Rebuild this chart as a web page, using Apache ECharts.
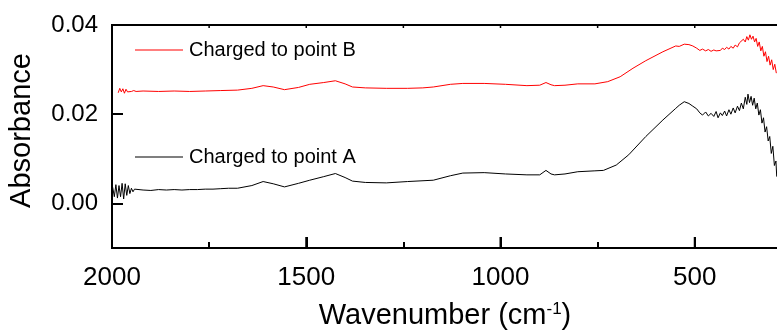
<!DOCTYPE html>
<html>
<head>
<meta charset="utf-8">
<script src="https://cdn.jsdelivr.net/npm/echarts@6/dist/echarts.min.js"></script>
<style>html,body{margin:0;padding:0;background:#fff}#c{width:777px;height:333px}</style>
</head>
<body>
<div id="c"></div>
<script>
// ---- data (wavenumber in cm-1, absorbance) ----
var wnA = [2000,1998,1994,1990,1986,1982,1978,1974,1970,1966,1962,1958,1954,1950,1946,1942,1938,
  1920,1900,1880,1860,1840,1820,1800,1780,1760,1740,1720,1700,1677,1640,1611,1585,1556,1520,1491,1455,1425,1400,1381,1348,1294,1239,1173,1129,1097,1042,987,932,899,883,870,861,834,801,757,735,702,670,626,582,549,
  540,527,515,505,495,487,480,472,465,458,451,445,440,434,429,423,418,412,407,401,396,390,385,380,375,370,366,363,359,355,351,347,343,339,335,331,327,323,319,315,311,307,303,299,295,291,289];
var absA = [0.0040,0.0035,0.0015,0.0042,0.0012,0.0040,0.0015,0.0045,0.0010,0.0044,0.0018,0.0040,0.0022,0.0034,0.0026,0.0032,0.0028,
  0.0030,0.0029,0.0031,0.0030,0.0031,0.0030,0.0031,0.0031,0.0032,0.0032,0.0033,0.0034,0.0034,0.0040,0.0049,0.0044,0.0037,0.0045,0.0052,0.0060,0.0067,0.0058,0.0050,0.0047,0.0046,0.0049,0.0052,0.0062,0.0068,0.0069,0.0066,0.0064,0.0064,0.0074,0.0066,0.0064,0.0066,0.0071,0.0073,0.0074,0.0086,0.0109,0.0150,0.0187,0.0213,
  0.0220,0.0228,0.0224,0.0218,0.0212,0.0203,0.0198,0.0205,0.0196,0.0202,0.0195,0.0206,0.0192,0.0203,0.0197,0.0207,0.0196,0.0210,0.0200,0.0214,0.0203,0.0218,0.0208,0.0225,0.0212,0.0238,0.0222,0.0245,0.0226,0.0240,0.0220,0.0236,0.0212,0.0225,0.0198,0.0210,0.0180,0.0192,0.0160,0.0172,0.0140,0.0150,0.0112,0.0128,0.0085,0.0095,0.0060];

var wnB = [1984,1980,1976,1972,1968,1964,1960,1956,1950,1944,1938,
  1920,1880,1840,1800,1760,1720,1677,1640,1611,1585,1556,1520,1491,1455,1425,1400,1381,1348,1294,1239,1200,1173,1129,1097,1042,987,932,899,883,870,861,834,801,757,724,692,659,626,582,549,
  540,527,515,505,495,487,480,472,465,458,451,445,440,434,429,423,418,412,407,401,396,390,385,380,375,370,366,362,358,354,350,346,342,338,334,330,326,322,318,314,310,306,302,298,294,290];
var absB = [0.0248,0.0258,0.0250,0.0257,0.0247,0.0256,0.0250,0.0254,0.0251,0.0253,0.0251,
  0.0252,0.0251,0.0252,0.0251,0.0252,0.0253,0.0254,0.0258,0.0264,0.0261,0.0255,0.0260,0.0267,0.0271,0.0275,0.0268,0.0261,0.0259,0.0258,0.0258,0.0259,0.0261,0.0267,0.0269,0.0269,0.0267,0.0264,0.0265,0.0271,0.0266,0.0264,0.0265,0.0268,0.0268,0.0273,0.0284,0.0303,0.0320,0.0340,0.0353,
  0.0352,0.0357,0.0356,0.0353,0.0348,0.0343,0.0346,0.0342,0.0345,0.0341,0.0344,0.0342,0.0346,0.0343,0.0348,0.0345,0.0350,0.0346,0.0352,0.0348,0.0355,0.0351,0.0360,0.0356,0.0368,0.0362,0.0374,0.0366,0.0378,0.0368,0.0375,0.0362,0.0370,0.0352,0.0362,0.0342,0.0352,0.0330,0.0340,0.0318,0.0330,0.0310,0.0322,0.0300,0.0312,0.0292];

var xMajor = [2000,1500,1000,500];
var xAll = [1750,1500,1250,1000,750,500];
var yTicks = [0,0.02,0.04];
var nameA = 'Charged to point A';
var nameB = 'Charged to point B';

function pairs(w,a){var r=[];for(var i=0;i<w.length;i++)r.push([w[i],a[i]]);return r;}

var FONT = '"Liberation Sans", Arial, sans-serif';
var YMIN = -0.01, YMAX = 0.04;
var chart = echarts.init(document.getElementById('c'), null, {renderer:'canvas'});
var legendBase = {padding:0, itemWidth:48, itemHeight:1, itemGap:0, icon:'rect',
  textStyle:{fontFamily:FONT, fontSize:20, color:'#000', padding:[0,0,0,1]}};

// tick marks placed through the axis scale (api.coord), with a pixel length
function tickRenderer(yVal, len, dir, width){
  return function(params, api){
    var p = api.coord([api.value(0), yVal]);
    return {type:'line', shape:{x1:p[0], y1:p[1], x2:p[0], y2:p[1] + dir*len},
            style:{stroke:'#000', lineWidth:width}, silent:true};
  };
}

chart.setOption({
  animation:false,
  backgroundColor:'#fff',
  // the axis runs 2000 -> 0; the part below ~289 lies past the right edge of the picture (cropped)
  grid:{left:112, right:-112, top:25, bottom:85, containLabel:false, outerBoundsMode:'none',
        show:true, borderColor:'#000', borderWidth:2, backgroundColor:'transparent'},
  legend:[
    Object.assign({data:[nameB], left:135, top:40}, legendBase),
    Object.assign({data:[nameA], left:135, top:147}, legendBase)
  ],
  xAxis:{
    type:'value', min:0, max:2000, inverse:true, interval:500, position:'bottom',
    splitLine:{show:false},
    name:'{a|Wavenumber (cm}{s|-1}{a|)}', nameLocation:'middle', nameGap:53,
    nameTextStyle:{padding:[0,111,0,0], rich:{a:{fontFamily:FONT, fontSize:29, color:'#000'}, s:{fontFamily:FONT, fontSize:17, color:'#000', verticalAlign:'top', padding:[0,0,13,0]}}},
    axisLine:{show:true, onZero:false, lineStyle:{color:'#000', width:2}},
    axisTick:{show:true, inside:true, length:11, lineStyle:{color:'#000', width:2}},
    minorTick:{show:true, splitNumber:2, length:6, lineStyle:{color:'#000', width:2}},
    axisLabel:{show:true, margin:17, fontFamily:FONT, fontSize:26, color:'#000', formatter:function(v){return String(v);}}
  },
  yAxis:{
    type:'value', min:YMIN, max:YMAX, position:'left',
    name:'Absorbance', nameLocation:'middle', nameGap:76,
    nameTextStyle:{fontFamily:FONT, fontSize:29, color:'#000', padding:[0,0,0,12]},
    splitLine:{show:false},
    axisLine:{show:true, onZero:false, lineStyle:{color:'#000', width:2}},
    axisTick:{show:true, inside:true, length:11, lineStyle:{color:'#000', width:2}, customValues:yTicks},
    axisLabel:{show:true, margin:14, fontFamily:FONT, fontSize:24, color:'#000', customValues:yTicks,
      formatter:function(v){return v.toFixed(2);}}
  },
  series:[
    {name:nameB, type:'line', data:pairs(wnB,absB), symbol:'none', lineStyle:{color:'#ff0000', width:1}, itemStyle:{color:'#ff0000'}},
    {name:nameA, type:'line', data:pairs(wnA,absA), symbol:'none', lineStyle:{color:'#000', width:1}, itemStyle:{color:'#000'}},
    {name:'majorTicks', type:'custom', data:xMajor.map(function(v){return [v];}), clip:false, silent:true, z:5,
     encode:{x:0}, renderItem:tickRenderer(YMIN, 11, -1, 2)},
    {name:'topTicks', type:'custom', data:xAll.map(function(v){return [v];}), clip:false, silent:true, z:5,
     encode:{x:0}, renderItem:tickRenderer(YMAX, 3, 1, 1.5)}
  ]
});
</script>
</body>
</html>
